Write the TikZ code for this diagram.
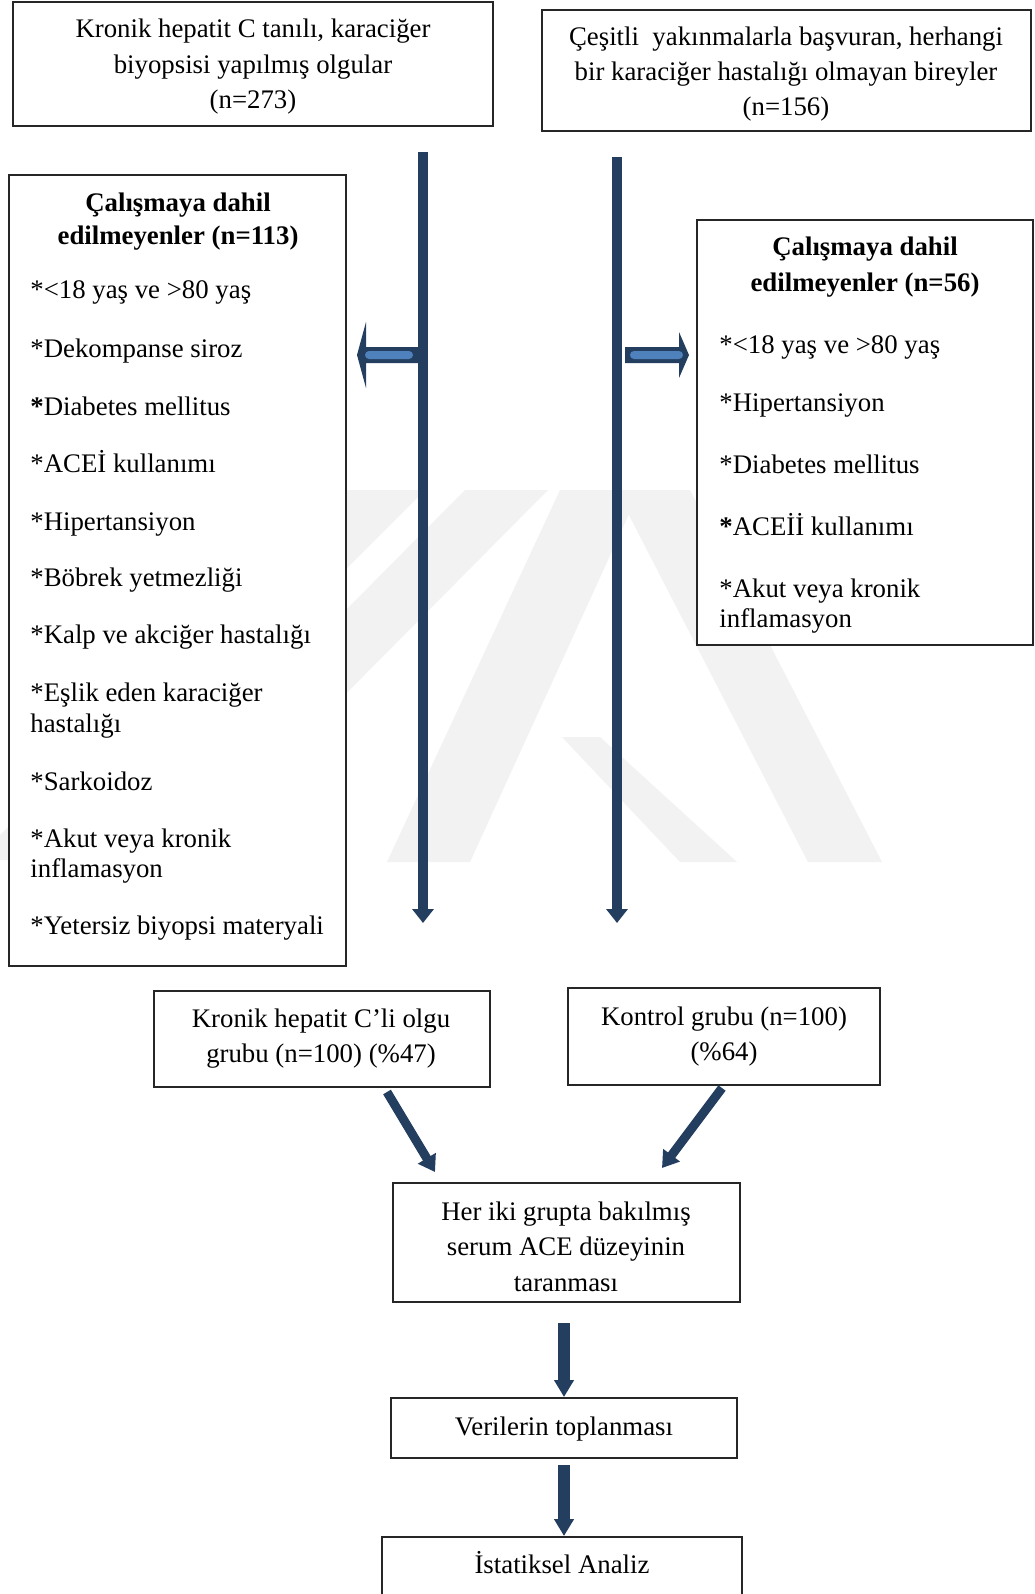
\documentclass[tikz,border=0pt]{standalone}
\usepackage{fontspec}
\setmainfont{Liberation Serif}
\usetikzlibrary{arrows.meta,fit}
\definecolor{navy}{RGB}{36,62,96}
\definecolor{lblue}{RGB}{79,129,189}
\definecolor{wm}{gray}{0.95}
\begin{document}
\begin{tikzpicture}[x=0.5pt,y=-0.5pt,
  box/.style={draw=black!85, fill=white, line width=0.75pt, inner sep=0pt},
  txt/.style={inner sep=0pt, anchor=base, font=\fontsize{13.4}{15}\selectfont},
  ltxt/.style={txt, anchor=base west},
  htxt/.style={txt, font=\fontsize{13.4}{15}\selectfont\bfseries},
  bar/.style={draw=navy, line width=5pt},
  vhead/.style={-{Triangle[width=10.5pt,length=7pt]}},
  dhead/.style={-{Triangle[width=10pt,length=8pt]}},
  blockarrow/.style={fill=navy},
  blockin/.style={fill=lblue},
]
\clip (0,0) rectangle (1034,1594);
\fill[white] (0,0) rectangle (1034,1594);

% faint watermark
\fill[wm] (345,490) -- (425,490) -- (55,860) -- (-25,860) -- cycle;
\fill[wm] (465,490) -- (548,490) -- (300,740) -- (217,740) -- cycle;
\fill[wm] (560,490) -- (640,490) -- (470,862) -- (387,862) -- cycle;
\fill[wm] (616,490) -- (690,490) -- (882,862) -- (808,862) -- cycle;
\fill[wm] (562,737) -- (600,737) -- (737,862) -- (680,862) -- cycle;

% boxes
\node[box, fit={(13,2) (493,126)}] (tl) {};
\node[box, fit={(542,10) (1031,131)}] (tr) {};
\node[box, fit={(9,175) (346,966)}] (exl) {};
\node[box, fit={(697,220) (1033,645)}] (exr) {};
\node[box, fit={(154,991) (490,1087)}] (grpa) {};
\node[box, fit={(568,988) (880,1085)}] (grpb) {};
\node[box, fit={(393,1183) (740,1302)}] (scan) {};
\node[box, fit={(391,1398) (737,1458)}] (data) {};
\node[box, fit={(382,1537) (742,1620)}] (stat) {};

% texts
\node[txt] (tl1) at (253,38) {Kronik hepatit C tanılı, karaciğer};
\node[txt] (tl2) at (253,73.5) {biyopsisi yapılmış olgular};
\node[txt] (tl3) at (253,109) {(n=273)};

\node[txt] (tr1) at (786,46) {Çeşitli\ \ yakınmalarla başvuran, herhangi};
\node[txt] (tr2) at (786,81) {bir karaciğer hastalığı olmayan bireyler};
\node[txt] (tr3) at (786,116) {(n=156)};

\node[htxt] (lh1) at (178,212) {Çalışmaya dahil};
\node[htxt] (lh2) at (178,244) {edilmeyenler (n=113)};
\node[ltxt] (l1) at (30,299) {*<18 yaş ve >80 yaş};
\node[ltxt] (l2) at (30,357) {*Dekompanse siroz};
\node[ltxt] (l3) at (30,415) {\textbf{*}Diabetes mellitus};
\node[ltxt] (l4) at (30,472) {*ACEİ kullanımı};
\node[ltxt] (l5) at (30,530) {*Hipertansiyon};
\node[ltxt] (l6) at (30,586) {*Böbrek yetmezliği};
\node[ltxt] (l7) at (30,643) {*Kalp ve akciğer hastalığı};
\node[ltxt] (l8a) at (30,701) {*Eşlik eden karaciğer};
\node[ltxt] (l8b) at (30,732) {hastalığı};
\node[ltxt] (l9) at (30,790) {*Sarkoidoz};
\node[ltxt] (l10a) at (30,847) {*Akut veya kronik};
\node[ltxt] (l10b) at (30,877) {inflamasyon};
\node[ltxt] (l11) at (30,934) {*Yetersiz biyopsi materyali};

\node[htxt] (rh1) at (865,256) {Çalışmaya dahil};
\node[htxt] (rh2) at (865,292) {edilmeyenler (n=56)};
\node[ltxt] (r1) at (719,353) {*<18 yaş ve >80 yaş};
\node[ltxt] (r2) at (719,411) {*Hipertansiyon};
\node[ltxt] (r3) at (719,473) {*Diabetes mellitus};
\node[ltxt] (r4) at (719,535) {\textbf{*}ACEİİ kullanımı};
\node[ltxt] (r5a) at (719,597) {*Akut veya kronik};
\node[ltxt] (r5b) at (719,627) {inflamasyon};

\node[txt] (ga1) at (321,1027) {Kronik hepatit C’li olgu};
\node[txt] (ga2) at (321,1062) {grubu (n=100) (\%47)};
\node[txt] (gb1) at (724,1025) {Kontrol grubu (n=100)};
\node[txt] (gb2) at (724,1060) {(\%64)};

\node[txt] (s1) at (566,1220) {Her iki grupta bakılmış};
\node[txt] (s2) at (566,1255) {serum ACE düzeyinin};
\node[txt] (s3) at (566,1291) {taranması};
\node[txt] (d1) at (564,1435) {Verilerin toplanması};
\node[txt] (st1) at (562,1573) {İstatiksel Analiz};

% connector end points
\coordinate (la) at (423,152);
\coordinate (lb) at (423,923);
\coordinate (ra) at (617,157);
\coordinate (rb) at (617,923);
\coordinate (da1) at (387,1092);
\coordinate (da2) at (435,1172);
\coordinate (db1) at (722,1088);
\coordinate (db2) at (662,1168);
\coordinate (e1) at (564,1323);
\coordinate (e2) at (564,1397);
\coordinate (f1) at (564,1465);
\coordinate (f2) at (564,1536);

% long vertical arrows
\draw[bar, vhead] (la) -- (lb);
\draw[bar, vhead] (ra) -- (rb);

% side block arrows
\fill[blockarrow] (419,347) -- (366,347) -- (366,322) -- (357,355) -- (366,388) -- (366,363) -- (419,363) -- cycle;
\fill[blockin, rounded corners=2pt] (365,351) rectangle (413,359);
\fill[blockarrow] (625,347) -- (679,347) -- (679,332) -- (689,355) -- (679,378) -- (679,363) -- (625,363) -- cycle;
\fill[blockin, rounded corners=2pt] (630,351) rectangle (683,359);

% diagonal arrows
\draw[draw=navy, line width=4.5pt, dhead] (da1) -- (da2);
\draw[draw=navy, line width=4.5pt, dhead] (db1) -- (db2);

% down arrows
\draw[draw=navy, line width=6pt, -{Triangle[width=9.5pt,length=8.5pt]}] (e1) -- (e2);
\draw[draw=navy, line width=6pt, -{Triangle[width=9.5pt,length=8.5pt]}] (f1) -- (f2);
\end{tikzpicture}
\end{document}
